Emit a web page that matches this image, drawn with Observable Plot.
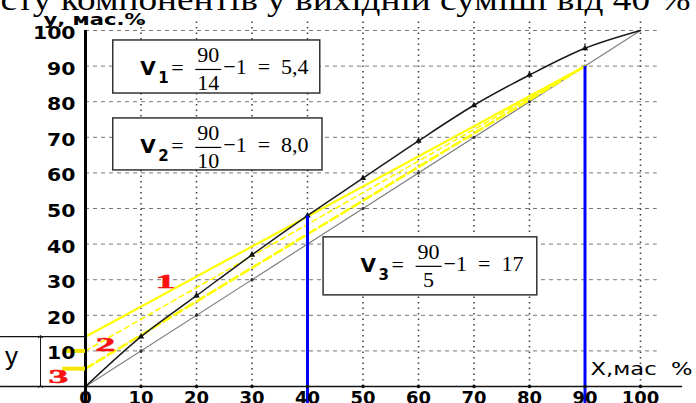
<!DOCTYPE html>
<html>
<head>
<meta charset="utf-8">
<script src="https://cdn.jsdelivr.net/npm/d3@7"></script>
<script src="https://cdn.jsdelivr.net/npm/@observablehq/plot@0.6"></script>
<style>
  html, body { margin: 0; padding: 0; background: #fff; overflow: hidden; }
  #chart svg { display: block; overflow: visible; }
</style>
</head>
<body>
<div id="chart"></div>
<script>
// Vapour–liquid equilibrium curve y*(x), % by mass
const eqX = [0, 10, 20, 30, 40, 50, 60, 70, 80, 90, 100];
const eqY = [0, 14, 25.5, 37, 48, 58.5, 69, 79, 87.5, 95, 100];
// Diagonal y = x
const diagX = [0, 100];
// Distillate and feed compositions, % by mass
const xD = 90;
const xF = 40;
// Operating-line intercepts on the y axis (x = 0) and their numbers
const intercepts = [14, 10, 5];
const lineNames = ["1", "2", "3"];
// Axis ticks
const xTicks = [0, 10, 20, 30, 40, 50, 60, 70, 80, 90, 100];
const yTicks = [10, 20, 30, 40, 50, 60, 70, 80, 90, 100];

const titleText = "сту компонентів у вихідній суміші від 40 %";

// pixel → data conversion for annotation offsets (x: 555 px per 100 %, y: 356 px per 100 %)
const kx = 100 / 555, ky = 100 / 356;
const yEq = d3.scaleLinear().domain(eqX).range(eqY);
const fmtV = v => (v >= 10 ? String(Math.round(v)) : v.toFixed(1)).replace(".", ",");

const eqData = eqX.map((x, i) => ({x, y: eqY[i]}));
const diagData = diagX.map(x => ({x, y: x}));
const opLines = intercepts.map((b, i) => [{x: 0, y: b, name: lineNames[i]}, {x: xD, y: xD, name: lineNames[i]}]);
const verticals = [{x: xF, top: yEq(xF)}, {x: xD, top: xD}];

// Formula boxes V = xD / y − 1, one per operating line
const boxFrames = [
  {x1: 5.0, x2: 42.3, y1: 82.3, y2: 97.2, indent: 0},
  {x1: 5.0, x2: 42.7, y1: 60.7, y2: 75.3, indent: 0},
  {x1: 42.9, x2: 81.4, y1: 25.6, y2: 41.9, indent: 10}
];
const boxes = intercepts.map((b, i) => ({
  ...boxFrames[i], b, name: lineNames[i], v: fmtV(xD / b - 1)
}));
const bx = (d, px) => d.x1 + (d.indent + px) * kx;

const serif = "Liberation Serif, Times New Roman, serif";
const sans = "DejaVu Sans, Verdana, sans-serif";

const yellow = "#ffff00";

const chart = Plot.plot({
  width: 696,
  height: 403,
  marginLeft: 85,
  marginRight: 56,
  marginTop: 30,
  marginBottom: 17,
  x: {domain: [0, 100], axis: null},
  y: {domain: [0, 100], axis: null},
  style: {background: "#fff", overflow: "visible"},
  marks: [
    // grid
    Plot.ruleY(yTicks, {x1: 0, x2: 103, stroke: "#777", strokeWidth: 1, strokeDasharray: "4,4"}),
    Plot.ruleX(xTicks.filter(d => d > 0), {y1: 0, y2: 103, stroke: "#444", strokeWidth: 1.6, strokeDasharray: "1.5,4"}),

    // title fragment (cut by the top edge)
    Plot.text([titleText], {ariaLabel: () => "title", frameAnchor: "top-left", dx: -85, dy: -21, lineAnchor: "bottom", textAnchor: "start",
      fontFamily: serif, fontSize: 32, fill: "#000"}),

    // diagonal
    Plot.line(diagData, {x: "x", y: "y", stroke: "#808080", strokeWidth: 1.2}),
    Plot.dot(xTicks.filter(d => d > 0 && d < 100), {x: d => d, y: d => d, r: 1.6, fill: "#333"}),

    // operating lines
    Plot.line(opLines[1], {x: "x", y: "y", stroke: yellow, strokeWidth: 1.6, strokeDasharray: "5,4"}),
    Plot.line(opLines[2], {x: "x", y: "y", stroke: yellow, strokeWidth: 2.6, strokeDasharray: "9,4"}),
    Plot.line(opLines[0], {x: "x", y: "y", stroke: yellow, strokeWidth: 2.2}),

    // equilibrium curve
    Plot.line(eqData, {x: "x", y: "y", stroke: "#1a1a1a", strokeWidth: 1.5, curve: "monotone-x"}),
    Plot.dot(eqData.slice(1, -1), {x: "x", y: "y", symbol: "triangle", r: 2.4, fill: "#111"}),

    // feed and distillate verticals
    Plot.link(verticals, {x1: "x", x2: "x", y1: -5, y2: "top", stroke: "#0000ff", strokeWidth: 3}),

    // axes
    Plot.ruleY([0], {x1: -15.3, x2: 107.6, stroke: "#111", strokeWidth: 1.5}),
    Plot.ruleX([0], {y1: -5, y2: 100, stroke: "#000", strokeWidth: 3}),
    Plot.dot(xTicks.filter(d => d > 0), {x: d => d, y: 0, r: 1.8, fill: "#111"}),

    // intercept bracket on the left
    Plot.ruleY([intercepts[0]], {x1: -15.3, x2: 0, stroke: "#111", strokeWidth: 1.2}),
    Plot.link([intercepts[0]], {x1: -8.1, x2: -8.1, y1: 0, y2: d => d, stroke: "#111", strokeWidth: 1,
      markerStart: "arrow", markerEnd: "arrow"}),
    Plot.ruleY(intercepts.slice(1), {x1: -4.1, x2: 0, stroke: "#f4e600", strokeWidth: 4}),
    Plot.text(["у"], {x: -14.5, y: 0, dy: -22, textAnchor: "start", lineAnchor: "bottom",
      fontFamily: "Liberation Sans, Arial, sans-serif", fontSize: 26, fill: "#000"}),

    // tick labels
    Plot.text(yTicks, {ariaLabel: () => "y-tick-label", x: 0, y: d => d, dx: -10, dy: 3, textAnchor: "end", lineAnchor: "middle",
      fontFamily: sans, fontWeight: "bold", fontSize: 17, fill: "#000"}),
    Plot.text(xTicks, {x: d => d, y: 0, dy: 17, textAnchor: "middle", lineAnchor: "bottom",
      fontFamily: sans, fontWeight: "bold", fontSize: 18, fill: "#000"}),

    // axis titles
    Plot.text(["у, мас.%"], {ariaLabel: () => "y-title", frameAnchor: "top-left", dx: -42, dy: -6, textAnchor: "start", lineAnchor: "bottom",
      fontFamily: sans, fontWeight: "bold", fontSize: 15, fill: "#000"}),
    Plot.text(["X,мас\u00a0\u00a0%"], {ariaLabel: () => "x-title", x: 91, y: 0, dy: -12, textAnchor: "start", lineAnchor: "bottom",
      fontFamily: sans, fontSize: 17, fill: "#000"}),

    // operating-line numbers
    Plot.text(lineNames, {ariaLabel: () => "line-number", x: [14.4, 3.6, -4.9], y: [29.2, 11.5, 2.5], textAnchor: "middle", lineAnchor: "middle",
      fontFamily: serif, fontWeight: "bold", fontSize: 18, fill: "#ff1010", stroke: "#d00000", strokeWidth: 0.5}),

    // formula boxes
    Plot.rect(boxes, {x1: "x1", x2: "x2", y1: "y1", y2: "y2", fill: "#fff", stroke: "#333", strokeWidth: 1.5}),
    Plot.text(boxes, {x: d => bx(d, 27), y: "y2", dy: 35, text: () => "V", textAnchor: "start", lineAnchor: "bottom",
      fontFamily: sans, fontWeight: "bold", fontSize: 20, fill: "#000"}),
    Plot.text(boxes, {x: d => bx(d, 45), y: "y2", dy: 43, text: "name", textAnchor: "start", lineAnchor: "bottom",
      fontFamily: sans, fontWeight: "bold", fontSize: 15, fill: "#000"}),
    Plot.text(boxes, {x: d => bx(d, 58), y: "y2", dy: 35, text: () => "=", textAnchor: "start", lineAnchor: "bottom",
      fontFamily: serif, fontSize: 22, fill: "#000"}),
    Plot.text(boxes, {x: d => bx(d, 95), y: "y2", dy: 22, text: () => String(xD), textAnchor: "middle", lineAnchor: "bottom",
      fontFamily: serif, fontSize: 22, fill: "#000"}),
    Plot.link(boxes, {x1: d => bx(d, 82), x2: d => bx(d, 108), y1: d => d.y2 - 29 * ky, y2: d => d.y2 - 29 * ky,
      stroke: "#000", strokeWidth: 1.2}),
    Plot.text(boxes, {x: d => bx(d, 95), y: "y2", dy: 50, text: d => String(d.b), textAnchor: "middle", lineAnchor: "bottom",
      fontFamily: serif, fontSize: 22, fill: "#000"}),
    Plot.text(boxes, {x: d => bx(d, 110), y: "y2", dy: 34, text: d => "\u22121\u2002=\u2002" + d.v, textAnchor: "start", lineAnchor: "bottom",
      fontFamily: serif, fontSize: 22, fill: "#000"})
  ]
});

document.getElementById("chart").appendChild(chart);

// find texts by their aria-label, whether it sits on the text or on its group
const pick = label => d3.select(chart)
  .selectAll(`text[aria-label="${label}"], g[aria-label="${label}"] > text`);

// widen glyphs horizontally around each text's own anchor point
function stretch(label, sx) {
  pick(label).each(function () {
    let t = this.getAttribute("transform");
    if (!t) {
      const x = +this.getAttribute("x") || 0, y = +this.getAttribute("y") || 0;
      this.removeAttribute("x");
      this.removeAttribute("y");
      t = `translate(${x},${y})`;
    }
    this.setAttribute("transform", `${t} scale(${sx},1)`);
  });
}
stretch("line-number", 2.2);
stretch("y-tick-label", 1.2);

// fit long single-line texts to their measured widths
pick("title").attr("textLength", 690).attr("lengthAdjust", "spacingAndGlyphs");
pick("x-title").attr("textLength", 102).attr("lengthAdjust", "spacingAndGlyphs");
pick("y-title").attr("textLength", 102).attr("lengthAdjust", "spacingAndGlyphs");
</script>
</body>
</html>
